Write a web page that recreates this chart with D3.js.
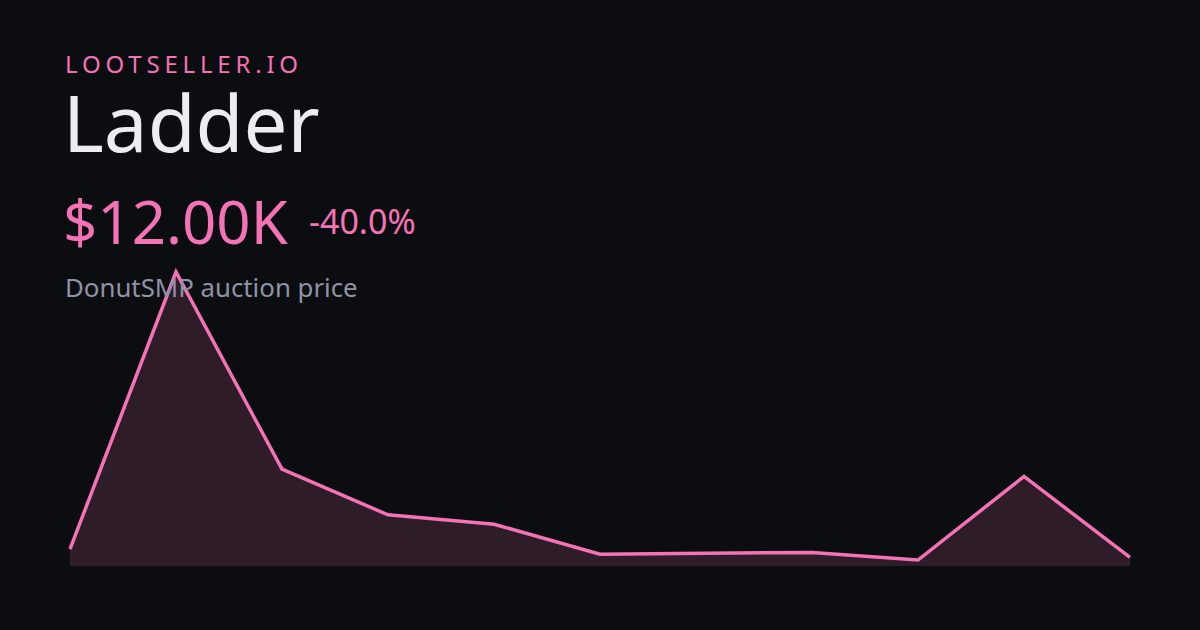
<!DOCTYPE html>
<html><head><meta charset="utf-8">
<script src="https://cdn.jsdelivr.net/npm/d3@7"></script>
<style>
html,body{margin:0;padding:0;background:#0c0d10;}
svg{display:block;}
</style></head>
<body>
<svg id="chart" width="1200" height="630"></svg>
<script>
const brand = "LOOTSELLER.IO";
const itemName = "Ladder";
const priceLabel = "$12.00K";
const changeLabel = "-40.0%";
const subtitle = "DonutSMP auction price";
const days = [0,1,2,3,4,5,6,7,8,9,10];
const prices = [20000, 287000, 97000, 53000, 44000, 15000, 16000, 16800, 9500, 90000, 12000];

const W = 1200, H = 630;
const svg = d3.select("#chart");
svg.append("rect").attr("width", W).attr("height", H).attr("fill", "#0c0d10");

const x = d3.scaleLinear().domain(d3.extent(days)).range([70, 1130]);
const y = d3.scaleLinear().domain(d3.extent(prices)).range([560, 272]);
const data = days.map((d, i) => ({d, v: prices[i]}));

svg.append("path").datum(data)
  .attr("d", d3.area().x(p => x(p.d)).y0(566).y1(p => y(p.v)))
  .attr("fill", "#f472b6").attr("fill-opacity", 0.15);
svg.append("path").datum(data)
  .attr("d", d3.line().x(p => x(p.d)).y(p => y(p.v)))
  .attr("fill", "none").attr("stroke", "#f472b6").attr("stroke-width", 3.5)
  .attr("stroke-linejoin", "miter");

const font = "'Noto Sans', 'Open Sans', sans-serif";
svg.append("text").attr("x", 65).attr("y", 73).text(brand)
  .attr("font-family", font).attr("font-size", 24).attr("letter-spacing", 4.8)
  .attr("fill", "#f472b6");
svg.append("text").attr("x", 63).attr("y", 152).text(itemName)
  .attr("font-family", font).attr("font-size", 78).attr("fill", "#ececf1");
svg.append("text").attr("x", 63).attr("y", 244).text(priceLabel)
  .attr("font-family", font).attr("font-size", 60).attr("fill", "#f472b6");
svg.append("text").attr("x", 309).attr("y", 234).text(changeLabel)
  .attr("font-family", font).attr("font-size", 34).attr("fill", "#f472b6");
svg.append("text").attr("x", 65).attr("y", 297).text(subtitle)
  .attr("font-family", font).attr("font-size", 25.8).attr("fill", "#8e93a6");
</script>
</body></html>
